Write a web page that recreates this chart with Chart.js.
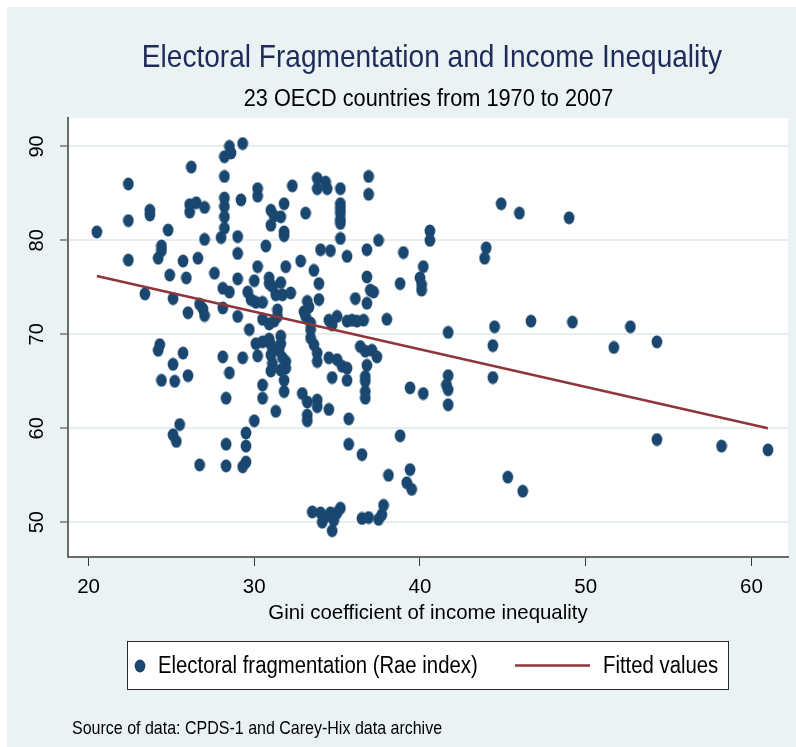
<!DOCTYPE html>
<html>
<head>
<meta charset="utf-8">
<title>Electoral Fragmentation and Income Inequality</title>
<script src="https://cdn.jsdelivr.net/npm/chart.js@4.4.1/dist/chart.umd.min.js"></script>
<style>
  html, body { margin: 0; padding: 0; background: #ffffff; }
  #wrap { width: 796px; height: 747px; position: relative; }
</style>
</head>
<body>
<div id="wrap"><canvas id="chart" width="796" height="747"></canvas></div>
<script>
// Gini coefficient of income inequality (x) for each country-year
const gini = [
  20.5,22.4,22.4,22.4,23.7,23.7,23.4,24.8,24.4,24.4,
  24.2,24.9,25.1,25.7,25.9,26.0,26.2,26.1,26.5,26.1,
  26.6,24.3,24.2,25.7,25.1,24.4,25.2,26.0,25.5,25.1,
  25.3,26.7,28.2,28.5,28.6,29.3,28.2,28.2,28.2,28.2,
  28.2,28.0,27.0,27.0,27.6,29.2,29.0,29.0,29.0,28.1,
  28.5,26.7,26.9,27.0,28.1,29.0,29.7,30.2,30.2,32.3,
  31.0,31.2,31.6,31.8,31.0,31.8,31.8,33.1,33.8,33.8,
  34.3,34.4,35.2,35.2,35.2,35.2,35.2,35.2,35.2,36.9,
  36.9,37.5,36.8,35.6,34.0,34.6,30.7,32.8,33.6,33.9,
  30.2,31.9,30.0,30.9,30.9,31.6,36.8,37.0,37.2,36.8,
  29.6,29.8,30.1,30.5,31.1,31.3,31.7,32.2,31.4,31.4,
  30.5,30.9,31.2,33.2,33.3,33.0,33.1,33.4,33.4,33.9,
  34.5,34.7,35.0,35.6,35.9,36.2,36.6,36.1,38.0,30.1,
  30.5,30.9,31.0,31.6,31.6,31.5,28.1,29.3,30.2,28.5,
  28.3,31.0,31.1,31.0,31.7,31.9,31.9,31.6,31.8,31.8,
  30.5,30.5,31.3,30.0,29.5,29.5,28.3,28.3,29.3,29.5,
  33.4,33.6,33.8,33.8,34.5,35.0,35.3,35.6,34.7,35.6,
  36.4,36.7,37.1,37.4,36.8,36.7,36.7,36.7,36.7,32.9,
  33.2,33.8,33.8,33.2,33.2,34.5,35.7,35.7,36.5,38.1,
  33.5,34.0,34.1,34.3,34.6,34.8,35.0,35.2,34.7,36.5,
  36.9,37.5,37.7,37.8,44.9,46.0,49.0,40.6,40.6,39.0,
  44.0,43.9,40.2,40.0,40.1,40.1,38.8,46.7,49.2,44.5,
  41.7,52.7,51.7,54.3,44.4,41.7,41.6,41.7,41.7,44.4,
  39.4,40.2,38.8,54.3,58.2,61.0,39.4,39.2,39.5,45.3,46.2
];

// Electoral fragmentation, Rae index (y), same order as gini
const rae = [
  80.9,86.0,82.1,77.9,83.2,82.7,74.3,81.1,79.4,78.9,
  78.1,76.3,73.8,77.8,76.0,72.3,87.8,83.8,84.0,83.0,
  78.1,68.9,68.3,68.0,66.8,65.1,65.0,65.6,60.4,59.3,
  58.6,56.1,88.9,90.0,89.3,90.3,86.8,84.5,83.6,82.5,
  81.3,80.3,83.5,80.1,76.5,84.3,80.4,78.6,75.9,74.9,
  74.5,73.2,72.7,72.0,72.8,71.9,70.5,85.5,84.7,85.8,
  83.2,82.6,82.5,83.9,81.6,80.9,80.5,82.9,86.6,85.5,
  86.2,85.5,85.5,83.9,83.4,82.9,82.2,81.8,80.2,86.8,
  84.9,80.0,79.0,78.3,79.0,78.9,79.4,77.8,76.8,75.4,
  77.2,77.2,75.7,76.0,75.4,75.5,76.1,74.7,74.5,73.3,
  74.5,73.7,73.4,73.4,75.1,74.2,74.2,74.4,72.6,71.9,
  71.6,71.1,71.4,73.5,72.9,72.4,71.9,71.2,70.5,73.7,
  71.5,71.0,71.9,71.4,71.5,71.4,71.5,73.8,71.6,69.0,
  69.2,69.5,68.9,69.8,69.0,68.3,67.6,67.5,67.7,65.9,
  63.2,67.8,66.9,66.1,67.5,67.1,66.4,66.2,65.1,63.9,
  64.6,63.2,61.8,60.8,59.5,58.1,58.3,56.0,55.9,56.4,
  69.6,68.9,68.0,67.1,67.5,67.3,66.6,66.4,65.4,65.1,
  68.7,68.2,68.3,67.6,66.7,65.5,65.0,63.9,63.2,63.7,
  62.8,63.0,62.3,61.4,60.8,62.0,61.0,58.3,57.2,55.0,
  51.1,51.0,50.0,50.6,51.0,50.2,51.0,51.5,49.1,50.4,
  50.5,50.3,50.8,51.8,83.9,82.9,82.4,81.0,80.0,78.7,
  79.2,78.1,77.2,76.0,75.3,74.7,75.4,71.4,71.3,70.8,
  70.2,70.8,68.6,69.2,68.8,65.6,64.6,64.1,62.5,65.4,
  64.3,63.7,59.2,58.8,58.1,57.7,55.6,54.2,53.5,54.8,53.3
];

// Linear fit, drawn between the lowest and highest Gini values
const fitGini = [20.5, 61.0];
const fitRae  = [76.2, 60.0];

// Axis ticks
const xTicks = [20, 30, 40, 50, 60];
const yTicks = [50, 60, 70, 80, 90];

// Text
const titleText    = 'Electoral Fragmentation and Income Inequality';
const subtitleText = '23 OECD countries from 1970 to 2007';
const xTitleText   = 'Gini coefficient of income inequality';
const seriesNames  = ['Electoral fragmentation (Rae index)', 'Fitted values'];
const noteText     = 'Source of data: CPDS-1 and Carey-Hix data archive';

// Look
const NAVY = '#1a476f';
const MAROON = '#90353b';
const REGION_BG = '#eaf2f3';
const GRID = '#e6eef0';
const AXIS = '#6b6b6b';
const TITLE_COLOR = '#1e2b58';
const FONT = '"Liberation Sans", Arial, Helvetica, sans-serif';
const SQUEEZE = 0.88;   // condensed look for the graph texts

// Filled oval marker
function makeMarker() {
  const c = document.createElement('canvas');
  c.width = 12; c.height = 14;
  const g = c.getContext('2d');
  g.fillStyle = NAVY;
  g.beginPath();
  g.ellipse(6, 7, 5.4, 6.5, 0, 0, Math.PI * 2);
  g.fill();
  return c;
}
const marker = makeMarker();

const points = gini.map((g, i) => ({ x: g, y: rae[i] }));
const fitLine = fitGini.map((g, i) => ({ x: g, y: fitRae[i] }));

// Horizontally condensed text
function condensedText(ctx, text, x, y, size, align, color) {
  ctx.save();
  ctx.font = size + 'px ' + FONT;
  ctx.fillStyle = color;
  ctx.textAlign = align;
  ctx.textBaseline = 'alphabetic';
  ctx.translate(x, y);
  ctx.scale(SQUEEZE, 1);
  ctx.fillText(text, 0, 0);
  ctx.restore();
}

// Background panels, titles, boxed legend and note
const frame = {
  id: 'frame',
  beforeDraw(chart) {
    const { ctx, chartArea: a, width, height } = chart;
    ctx.save();
    ctx.fillStyle = '#ffffff';
    ctx.fillRect(0, 0, width, height);
    ctx.fillStyle = REGION_BG;
    ctx.fillRect(7, 7, width - 7, height - 7);
    ctx.fillStyle = '#ffffff';
    ctx.fillRect(a.left, a.top, a.right - a.left, a.bottom - a.top);
    ctx.restore();
  },
  afterDraw(chart) {
    const { ctx } = chart;
    condensedText(ctx, titleText, 432, 67, 31.9, 'center', TITLE_COLOR);
    condensedText(ctx, subtitleText, 428.5, 106, 24.7, 'center', '#000000');

    // legend
    ctx.save();
    ctx.fillStyle = '#ffffff';
    ctx.fillRect(127.5, 641.5, 601, 48);
    ctx.strokeStyle = '#2a2a2a';
    ctx.lineWidth = 1;
    ctx.strokeRect(127.5, 641.5, 601, 48);
    ctx.drawImage(marker, 140 - 6, 666 - 7);
    ctx.strokeStyle = MAROON;
    ctx.lineWidth = 2.6;
    ctx.beginPath();
    ctx.moveTo(515, 665.5);
    ctx.lineTo(590, 665.5);
    ctx.stroke();
    ctx.restore();
    condensedText(ctx, seriesNames[0], 158, 673, 23.1, 'left', '#000000');
    condensedText(ctx, seriesNames[1], 603, 673, 23.1, 'left', '#000000');

    condensedText(ctx, noteText, 72, 734, 18.2, 'left', '#000000');
  }
};

new Chart(document.getElementById('chart'), {
  type: 'scatter',
  data: {
    datasets: [
      {
        label: seriesNames[1],
        data: fitLine,
        showLine: true,
        borderColor: MAROON,
        borderWidth: 2.6,
        pointRadius: 0,
        fill: false,
        order: 0
      },
      {
        label: seriesNames[0],
        data: points,
        pointStyle: marker,
        pointRadius: 6,
        pointHoverRadius: 6,
        order: 1
      }
    ]
  },
  options: {
    responsive: false,
    animation: false,
    devicePixelRatio: 1,
    events: [],
    layout: { padding: { left: 0, right: 8, top: 118, bottom: 118 } },
    plugins: {
      legend: { display: false },
      title: { display: false },
      tooltip: { enabled: false }
    },
    scales: {
      x: {
        type: 'linear',
        min: 18.76,
        max: 62.21,
        afterBuildTicks: s => { s.ticks = xTicks.map(v => ({ value: v })); },
        afterFit: s => { s.height = 72; },
        grid: {
          display: true,
          drawOnChartArea: false,
          drawTicks: true,
          tickLength: 9,
          tickColor: '#3a3a3a',
          tickWidth: 1
        },
        border: { display: true, color: AXIS, width: 2 },
        ticks: {
          color: '#000000',
          font: { family: FONT, size: 20.5 },
          padding: 9,
          maxRotation: 0,
          minRotation: 0
        },
        title: {
          display: true,
          text: xTitleText,
          color: '#000000',
          font: { family: FONT, size: 20.4 },
          padding: { top: 0, bottom: 3 }
        }
      },
      y: {
        type: 'linear',
        min: 46.30,
        max: 93.02,
        afterBuildTicks: s => { s.ticks = yTicks.map(v => ({ value: v })); },
        afterFit: s => { s.width = 68; },
        grid: {
          display: true,
          drawOnChartArea: true,
          color: GRID,
          lineWidth: 2,
          drawTicks: true,
          tickLength: 8,
          tickColor: '#555555',
          tickWidth: 1.2
        },
        border: { display: true, color: AXIS, width: 2 },
        ticks: {
          color: '#000000',
          font: { family: FONT, size: 20 },
          padding: 11,
          minRotation: 90,
          maxRotation: 90,
          crossAlign: 'center'
        }
      }
    }
  },
  plugins: [frame]
});
</script>
</body>
</html>
